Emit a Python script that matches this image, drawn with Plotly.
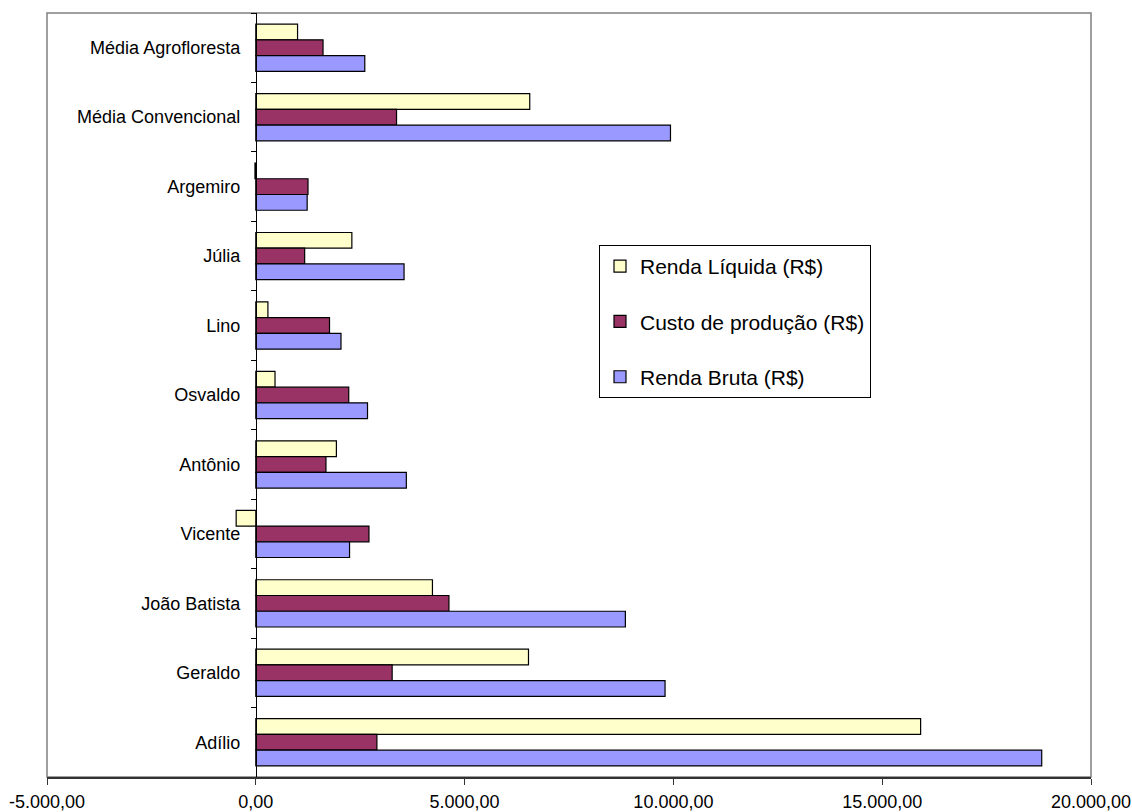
import plotly.graph_objects as go

# Produtores e médias, de cima para baixo
produtores = [
    "Média Agrofloresta", "Média Convencional", "Argemiro", "Júlia", "Lino",
    "Osvaldo", "Antônio", "Vicente", "João Batista", "Geraldo", "Adílio",
]

renda_liquida = [1000, 6560, -20, 2300, 290, 460, 1930, -470, 4230, 6530, 15920]
custo_producao = [1610, 3370, 1250, 1170, 1765, 2225, 1680, 2710, 4625, 3265, 2900]
renda_bruta = [2610, 9930, 1230, 3550, 2040, 2675, 3605, 2245, 8850, 9800, 18820]

series_nomes = ["Renda Líquida (R$)", "Custo de produção (R$)", "Renda Bruta (R$)"]
series_cores = ["#FFFFCC", "#993366", "#9999FF"]

x_ticks = [-5000, 0, 5000, 10000, 15000, 20000]


def fmt_br(v):
    s = f"{abs(v):,.2f}".replace(",", "X").replace(".", ",").replace("X", ".")
    return ("-" if v < 0 else "") + s


FONT = "Liberation Sans, Arial, sans-serif"

fig = go.Figure()
for nome, valores, cor in zip(series_nomes, [renda_liquida, custo_producao, renda_bruta], series_cores):
    fig.add_trace(go.Bar(
        y=produtores, x=valores, name=nome, orientation="h",
        marker=dict(color=cor, line=dict(color="black", width=1.2)),
        legendgroup=nome,
    ))

x_min, x_max = x_ticks[0], x_ticks[-1]
zero_frac = (0 - x_min) / (x_max - x_min)

fig.update_layout(
    width=1132, height=812,
    margin=dict(l=47, r=41, t=13, b=35, autoexpand=False),
    paper_bgcolor="white", plot_bgcolor="white",
    barmode="group", bargap=0.32, bargroupgap=0,
    font=dict(family=FONT, color="black"),
    showlegend=True,
    legend=dict(
        x=(599 - 47) / 1044, y=(777 - 245) / 764, xanchor="left", yanchor="top",
        bordercolor="black", borderwidth=1, bgcolor="white",
        font=dict(size=21, family=FONT), tracegroupgap=25,
        entrywidth=240, itemclick=False,
    ),
    xaxis=dict(
        range=[x_min, x_max], tickvals=x_ticks, ticktext=[fmt_br(v) for v in x_ticks],
        showgrid=False, zeroline=False, showline=True, linecolor="#333333", linewidth=2,
        ticks="outside", ticklen=6, tickcolor="#333333",
        tickfont=dict(size=18, family=FONT), ticklabelstandoff=1,
        automargin=False, fixedrange=True,
    ),
    yaxis=dict(
        autorange="reversed", type="category",
        anchor="free", position=zero_frac,
        showgrid=False, zeroline=False, showline=True, linecolor="black", linewidth=1,
        ticks="outside", ticklen=5, tickcolor="black", tickson="boundaries",
        tickfont=dict(size=18, family=FONT), ticklabelstandoff=12,
        automargin=False, fixedrange=True,
    ),
    shapes=[dict(
        type="rect", xref="paper", yref="paper", x0=0, x1=1, y0=0, y1=1,
        line=dict(color="#808080", width=1.5), layer="below",
    )],
)

fig.write_html("out.html")
